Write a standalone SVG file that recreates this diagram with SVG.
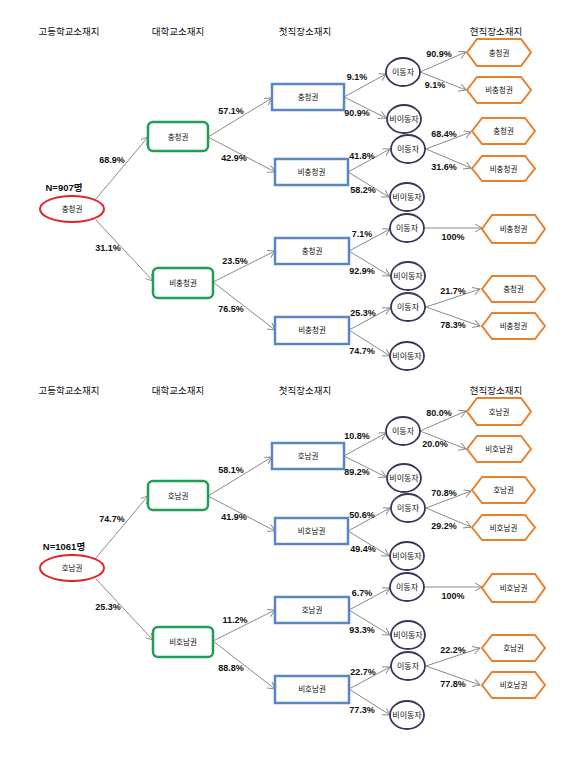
<svg xmlns="http://www.w3.org/2000/svg" width="567" height="762" viewBox="0 0 567 762">
<style>
text{font-family:"Liberation Sans","Noto Sans CJK KR",sans-serif;fill:#111;text-anchor:middle}
.hd{font-size:9.5px}
.pc{font-size:9px;font-weight:bold}
.nn{font-size:9.5px;font-weight:bold}
.lb{font-size:7.5px}
.ml{font-size:8px}
.red{fill:#fff;stroke:#e0262b;stroke-width:2}
.grn{fill:#fff;stroke:#1f9e55;stroke-width:2.5}
.blu{fill:#fff;stroke:#5a86c5;stroke-width:2.5}
.pur{fill:#fff;stroke:#3d3458;stroke-width:1.8}
.org{fill:#fff;stroke:#e8812e;stroke-width:2}
.cn line{stroke:#8a8a8a;stroke-width:1;marker-end:url(#ar)}
</style>
<defs>
<marker id="ar" markerWidth="9" markerHeight="9" refX="7" refY="4" orient="auto" markerUnits="userSpaceOnUse">
<path d="M0,0 L7,4 L0,8" fill="none" stroke="#8a8a8a" stroke-width="1"/>
</marker>
</defs>

<g id="section1">
<g id="headers1">
<text class="hd" x="69" y="35">고등학교소재지</text>
<text class="hd" x="178" y="35">대학교소재지</text>
<text class="hd" x="305" y="35">첫직장소재지</text>
<text class="hd" x="496" y="35">현직장소재지</text>
</g>
<g id="connectors1" class="cn">
<line x1="95" y1="200" x2="148" y2="137"/>
<line x1="96" y1="220" x2="153" y2="281"/>
<line x1="208" y1="137" x2="272" y2="98"/>
<line x1="208" y1="137" x2="275" y2="172"/>
<line x1="213" y1="282" x2="275" y2="251"/>
<line x1="213" y1="282" x2="275" y2="330"/>
<line x1="344" y1="97" x2="386" y2="74"/>
<line x1="344" y1="97" x2="386" y2="118"/>
<line x1="348" y1="172" x2="390" y2="149"/>
<line x1="348" y1="172" x2="389" y2="197"/>
<line x1="349" y1="251" x2="390" y2="229"/>
<line x1="349" y1="251" x2="390" y2="276"/>
<line x1="349" y1="330" x2="390" y2="308"/>
<line x1="349" y1="330" x2="390" y2="356"/>
<line x1="420" y1="72" x2="466" y2="52"/>
<line x1="420" y1="72" x2="466" y2="90"/>
<line x1="426" y1="149" x2="471" y2="132"/>
<line x1="426" y1="149" x2="471" y2="168"/>
<line x1="425" y1="228" x2="482" y2="228"/>
<line x1="426" y1="307" x2="480" y2="289"/>
<line x1="426" y1="307" x2="480" y2="326"/>
</g>
<g id="labels1">
<text class="pc" x="112" y="163">68.9%</text>
<text class="pc" x="108" y="251">31.1%</text>
<text class="pc" x="231" y="114">57.1%</text>
<text class="pc" x="234" y="161">42.9%</text>
<text class="pc" x="235" y="264">23.5%</text>
<text class="pc" x="231" y="312">76.5%</text>
<text class="pc" x="357" y="80">9.1%</text>
<text class="pc" x="357" y="116">90.9%</text>
<text class="pc" x="362" y="159">41.8%</text>
<text class="pc" x="363" y="193">58.2%</text>
<text class="pc" x="362" y="237">7.1%</text>
<text class="pc" x="362" y="274">92.9%</text>
<text class="pc" x="363" y="316">25.3%</text>
<text class="pc" x="362" y="354">74.7%</text>
<text class="pc" x="439" y="57">90.9%</text>
<text class="pc" x="435" y="88">9.1%</text>
<text class="pc" x="444" y="137">68.4%</text>
<text class="pc" x="444" y="170">31.6%</text>
<text class="pc" x="453" y="240">100%</text>
<text class="pc" x="453" y="294">21.7%</text>
<text class="pc" x="453" y="328">78.3%</text>
<text class="nn" x="64" y="191">N=907명</text>
</g>
<g id="t-root"><ellipse class="red" cx="72" cy="209" rx="32" ry="13"/><text class="lb" x="72" y="212">충청권</text></g>
<g id="t-u1"><rect class="grn" x="148" y="122" width="60" height="29" rx="5"/><text class="lb" x="178" y="139.5">충청권</text></g>
<g id="t-u2"><rect class="grn" x="153" y="268" width="60" height="30" rx="5"/><text class="lb" x="183" y="285.5">비충청권</text></g>
<g id="t-f1"><rect class="blu" x="272" y="84" width="72" height="26"/><text class="lb" x="308" y="99.5">충청권</text></g>
<g id="t-f2"><rect class="blu" x="275" y="159" width="73" height="26"/><text class="lb" x="311.5" y="174.5">비충청권</text></g>
<g id="t-f3"><rect class="blu" x="275" y="238" width="74" height="26"/><text class="lb" x="312" y="253.5">충청권</text></g>
<g id="t-f4"><rect class="blu" x="275" y="317" width="74" height="27"/><text class="lb" x="312" y="333">비충청권</text></g>
<g id="t-m1"><ellipse class="pur" cx="403" cy="72" rx="17" ry="14"/><text class="ml" x="403" y="75">이동자</text></g>
<g id="t-n1"><ellipse class="pur" cx="404" cy="119" rx="17" ry="14"/><text class="ml" x="404" y="122">비이동자</text></g>
<g id="t-m2"><ellipse class="pur" cx="408" cy="149" rx="17" ry="14"/><text class="ml" x="408" y="152">이동자</text></g>
<g id="t-n2"><ellipse class="pur" cx="407" cy="197" rx="17" ry="14"/><text class="ml" x="407" y="200">비이동자</text></g>
<g id="t-m3"><ellipse class="pur" cx="407" cy="228" rx="17" ry="14"/><text class="ml" x="407" y="231">이동자</text></g>
<g id="t-n3"><ellipse class="pur" cx="408" cy="276" rx="17" ry="14"/><text class="ml" x="408" y="279">비이동자</text></g>
<g id="t-m4"><ellipse class="pur" cx="408" cy="307" rx="17" ry="14"/><text class="ml" x="408" y="310">이동자</text></g>
<g id="t-n4"><ellipse class="pur" cx="407" cy="356" rx="17" ry="14"/><text class="ml" x="407" y="359">비이동자</text></g>
<g id="t-h1"><path class="org" d="M467,52.5 L477,39 L521,39 L531,52.5 L521,66 L477,66 Z"/><text class="lb" x="499" y="55.5">충청권</text></g>
<g id="t-h2"><path class="org" d="M467,90 L477,77 L521,77 L531,90 L521,103 L477,103 Z"/><text class="lb" x="499" y="93">비충청권</text></g>
<g id="t-h3"><path class="org" d="M472,131 L482,118 L525,118 L535,131 L525,144 L482,144 Z"/><text class="lb" x="503.5" y="134">충청권</text></g>
<g id="t-h4"><path class="org" d="M472,168.5 L482,156 L525,156 L535,168.5 L525,181 L482,181 Z"/><text class="lb" x="503.5" y="171.5">비충청권</text></g>
<g id="t-h5"><path class="org" d="M482,229 L492,215 L535,215 L545,229 L535,243 L492,243 Z"/><text class="lb" x="513.5" y="232">비충청권</text></g>
<g id="t-h6"><path class="org" d="M482,289 L492,276 L535,276 L545,289 L535,302 L492,302 Z"/><text class="lb" x="513.5" y="292">충청권</text></g>
<g id="t-h7"><path class="org" d="M482,326 L492,313 L535,313 L545,326 L535,339 L492,339 Z"/><text class="lb" x="513.5" y="329">비충청권</text></g>
</g>

<g id="section2" transform="translate(0,359)">
<g id="headers2">
<text class="hd" x="69" y="35">고등학교소재지</text>
<text class="hd" x="178" y="35">대학교소재지</text>
<text class="hd" x="305" y="35">첫직장소재지</text>
<text class="hd" x="496" y="35">현직장소재지</text>
</g>
<g id="connectors2" class="cn">
<line x1="95" y1="200" x2="148" y2="137"/>
<line x1="96" y1="220" x2="153" y2="281"/>
<line x1="208" y1="137" x2="272" y2="98"/>
<line x1="208" y1="137" x2="275" y2="172"/>
<line x1="213" y1="282" x2="275" y2="251"/>
<line x1="213" y1="282" x2="275" y2="330"/>
<line x1="344" y1="97" x2="386" y2="74"/>
<line x1="344" y1="97" x2="386" y2="118"/>
<line x1="348" y1="172" x2="390" y2="149"/>
<line x1="348" y1="172" x2="389" y2="197"/>
<line x1="349" y1="251" x2="390" y2="229"/>
<line x1="349" y1="251" x2="390" y2="276"/>
<line x1="349" y1="330" x2="390" y2="308"/>
<line x1="349" y1="330" x2="390" y2="356"/>
<line x1="420" y1="72" x2="466" y2="52"/>
<line x1="420" y1="72" x2="466" y2="90"/>
<line x1="426" y1="149" x2="471" y2="132"/>
<line x1="426" y1="149" x2="471" y2="168"/>
<line x1="425" y1="228" x2="482" y2="228"/>
<line x1="426" y1="307" x2="480" y2="289"/>
<line x1="426" y1="307" x2="480" y2="326"/>
</g>
<g id="labels2">
<text class="pc" x="112" y="163">74.7%</text>
<text class="pc" x="108" y="251">25.3%</text>
<text class="pc" x="231" y="114">58.1%</text>
<text class="pc" x="234" y="161">41.9%</text>
<text class="pc" x="235" y="264">11.2%</text>
<text class="pc" x="231" y="312">88.8%</text>
<text class="pc" x="357" y="80">10.8%</text>
<text class="pc" x="357" y="116">89.2%</text>
<text class="pc" x="362" y="159">50.6%</text>
<text class="pc" x="363" y="193">49.4%</text>
<text class="pc" x="362" y="237">6.7%</text>
<text class="pc" x="362" y="274">93.3%</text>
<text class="pc" x="363" y="316">22.7%</text>
<text class="pc" x="362" y="354">77.3%</text>
<text class="pc" x="439" y="57">80.0%</text>
<text class="pc" x="435" y="88">20.0%</text>
<text class="pc" x="444" y="137">70.8%</text>
<text class="pc" x="444" y="170">29.2%</text>
<text class="pc" x="453" y="240">100%</text>
<text class="pc" x="453" y="294">22.2%</text>
<text class="pc" x="453" y="328">77.8%</text>
<text class="nn" x="64" y="191">N=1061명</text>
</g>
<g id="b-root"><ellipse class="red" cx="72" cy="209" rx="32" ry="13"/><text class="lb" x="72" y="212">호남권</text></g>
<g id="b-u1"><rect class="grn" x="148" y="122" width="60" height="29" rx="5"/><text class="lb" x="178" y="139.5">호남권</text></g>
<g id="b-u2"><rect class="grn" x="153" y="268" width="60" height="30" rx="5"/><text class="lb" x="183" y="285.5">비호남권</text></g>
<g id="b-f1"><rect class="blu" x="272" y="84" width="72" height="26"/><text class="lb" x="308" y="99.5">호남권</text></g>
<g id="b-f2"><rect class="blu" x="275" y="159" width="73" height="26"/><text class="lb" x="311.5" y="174.5">비호남권</text></g>
<g id="b-f3"><rect class="blu" x="275" y="238" width="74" height="26"/><text class="lb" x="312" y="253.5">호남권</text></g>
<g id="b-f4"><rect class="blu" x="275" y="317" width="74" height="27"/><text class="lb" x="312" y="333">비호남권</text></g>
<g id="b-m1"><ellipse class="pur" cx="403" cy="72" rx="17" ry="14"/><text class="ml" x="403" y="75">이동자</text></g>
<g id="b-n1"><ellipse class="pur" cx="404" cy="119" rx="17" ry="14"/><text class="ml" x="404" y="122">비이동자</text></g>
<g id="b-m2"><ellipse class="pur" cx="408" cy="149" rx="17" ry="14"/><text class="ml" x="408" y="152">이동자</text></g>
<g id="b-n2"><ellipse class="pur" cx="407" cy="197" rx="17" ry="14"/><text class="ml" x="407" y="200">비이동자</text></g>
<g id="b-m3"><ellipse class="pur" cx="407" cy="228" rx="17" ry="14"/><text class="ml" x="407" y="231">이동자</text></g>
<g id="b-n3"><ellipse class="pur" cx="408" cy="276" rx="17" ry="14"/><text class="ml" x="408" y="279">비이동자</text></g>
<g id="b-m4"><ellipse class="pur" cx="408" cy="307" rx="17" ry="14"/><text class="ml" x="408" y="310">이동자</text></g>
<g id="b-n4"><ellipse class="pur" cx="407" cy="356" rx="17" ry="14"/><text class="ml" x="407" y="359">비이동자</text></g>
<g id="b-h1"><path class="org" d="M467,52.5 L477,39 L521,39 L531,52.5 L521,66 L477,66 Z"/><text class="lb" x="499" y="55.5">호남권</text></g>
<g id="b-h2"><path class="org" d="M467,90 L477,77 L521,77 L531,90 L521,103 L477,103 Z"/><text class="lb" x="499" y="93">비호남권</text></g>
<g id="b-h3"><path class="org" d="M472,131 L482,118 L525,118 L535,131 L525,144 L482,144 Z"/><text class="lb" x="503.5" y="134">호남권</text></g>
<g id="b-h4"><path class="org" d="M472,168.5 L482,156 L525,156 L535,168.5 L525,181 L482,181 Z"/><text class="lb" x="503.5" y="171.5">비호남권</text></g>
<g id="b-h5"><path class="org" d="M482,229 L492,215 L535,215 L545,229 L535,243 L492,243 Z"/><text class="lb" x="513.5" y="232">비호남권</text></g>
<g id="b-h6"><path class="org" d="M482,289 L492,276 L535,276 L545,289 L535,302 L492,302 Z"/><text class="lb" x="513.5" y="292">호남권</text></g>
<g id="b-h7"><path class="org" d="M482,326 L492,313 L535,313 L545,326 L535,339 L492,339 Z"/><text class="lb" x="513.5" y="329">비호남권</text></g>
</g>
</svg>
